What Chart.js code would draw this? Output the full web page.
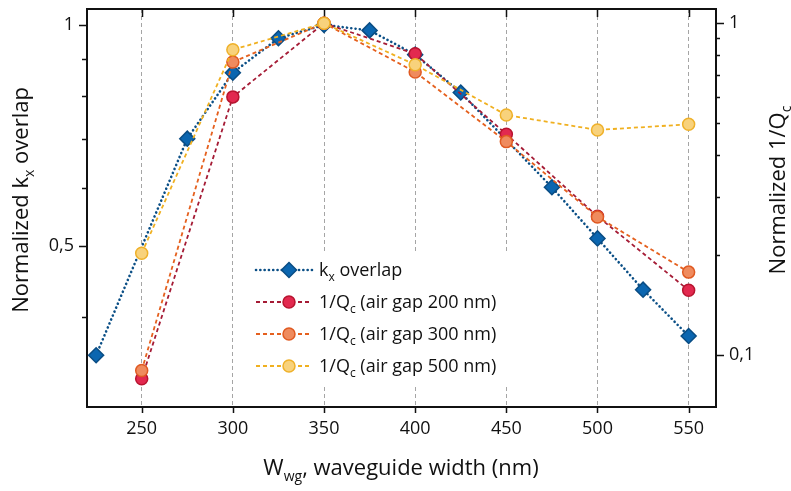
<!DOCTYPE html>
<html>
<head>
<meta charset="utf-8">
<script src="https://cdn.jsdelivr.net/npm/chart.js@4/dist/chart.umd.min.js"></script>
<style>
  html, body { margin: 0; padding: 0; background: #fff; }
  #wrap { width: 791px; height: 491px; position: relative; }
</style>
</head>
<body>
<div id="wrap"><canvas id="chart" width="791" height="491"></canvas></div>
<script>
// waveguide widths (nm) and normalized values
const widthsKx = [225, 275, 300, 325, 350, 375, 400, 425, 475, 500, 525, 550];
const kxOverlap = [0.355, 0.70, 0.861, 0.959, 1.0, 0.983, 0.911, 0.809, 0.601, 0.512, 0.436, 0.377];

const widthsQ = [250, 300, 350, 400, 450, 500, 550];
const invQGap200 = [0.085, 0.600, 1.0, 0.809, 0.463, 0.262, 0.157];
const invQGap300 = [0.090, 0.764, 1.0, 0.713, 0.440, 0.261, 0.178];
const invQGap500 = [0.203, 0.832, 1.0, 0.750, 0.529, 0.477, 0.496];

const xTicks = [250, 300, 350, 400, 450, 500, 550];
const leftTicks = [0.4, 0.5, 0.6, 0.7, 0.8, 0.9, 1];
const leftMajor = [0.5, 1];
const rightTicks = [0.1, 0.2, 0.3, 0.4, 0.5, 0.6, 0.7, 0.8, 0.9, 1];
const rightMajor = [0.1, 1];

const FONT = "'Open Sans', sans-serif";

function toPoints(xs, ys) {
    return xs.map((x, i) => ({ x: x, y: ys[i] }));
}

function fmtComma(v) {
    return String(v).replace('.', ',');
}

// draw a line of text made of parts, some of them subscripts
function richWidth(ctx, parts) {
    let w = 0;
    parts.forEach(p => {
        ctx.font = p.size + 'px ' + FONT;
        w += ctx.measureText(p.t).width;
    });
    return w;
}
function drawRich(ctx, parts, x, y, align) {
    const w = richWidth(ctx, parts);
    let cx = align === 'center' ? x - w / 2 : x;
    ctx.textAlign = 'left';
    ctx.textBaseline = 'alphabetic';
    parts.forEach(p => {
        ctx.font = p.size + 'px ' + FONT;
        ctx.fillText(p.t, cx, y + (p.dy || 0));
        cx += ctx.measureText(p.t).width;
    });
}

const legendItems = [
    { parts: [{ t: 'k', size: 18 }, { t: 'x', size: 12, dy: 5 }, { t: ' overlap', size: 18 }],
      line: '#0b4f86', dash: [0.1, 4.2], cap: 'round', lw: 2.6, marker: 'diamond', fill: '#0b66b0', stroke: '#0a4d84' },
    { parts: [{ t: '1/Q', size: 18 }, { t: 'c', size: 12, dy: 5 }, { t: ' (air gap 200 nm)', size: 18 }],
      line: '#a51b35', dash: [4, 3], cap: 'butt', lw: 1.8, marker: 'circle', fill: '#e2294f', stroke: '#b8142f' },
    { parts: [{ t: '1/Q', size: 18 }, { t: 'c', size: 12, dy: 5 }, { t: ' (air gap 300 nm)', size: 18 }],
      line: '#e5601e', dash: [4, 3], cap: 'butt', lw: 1.8, marker: 'circle', fill: '#ef8b5e', stroke: '#e05a22' },
    { parts: [{ t: '1/Q', size: 18 }, { t: 'c', size: 12, dy: 5 }, { t: ' (air gap 500 nm)', size: 18 }],
      line: '#f0b020', dash: [4, 3], cap: 'butt', lw: 1.8, marker: 'circle', fill: '#f8d27c', stroke: '#efb12a' }
];

const framePlugin = {
    id: 'frame',
    beforeDatasetsDraw(chart) {
        const ctx = chart.ctx;
        const a = chart.chartArea;
        // legend background hides the grid lines
        ctx.save();
        ctx.fillStyle = '#fff';
        ctx.fillRect(252, 252, 258, 132);
        // ticks
        ctx.strokeStyle = '#111';
        ctx.lineWidth = 1.5;
        ctx.beginPath();
        const yl = chart.scales.yL, yr = chart.scales.yR, xs = chart.scales.x;
        leftTicks.forEach(v => {
            const y = Math.round(yl.getPixelForValue(v)) + 0.5;
            const len = leftMajor.includes(v) ? 8 : 5;
            ctx.moveTo(a.left, y); ctx.lineTo(a.left - len, y);
        });
        rightTicks.forEach(v => {
            const y = Math.round(yr.getPixelForValue(v)) + 0.5;
            const len = rightMajor.includes(v) ? 8 : 4;
            ctx.moveTo(a.right, y); ctx.lineTo(a.right + len, y);
        });
        xTicks.forEach(v => {
            const x = Math.round(xs.getPixelForValue(v)) + 0.5;
            ctx.moveTo(x, a.top); ctx.lineTo(x, a.top + 8);
            ctx.moveTo(x, a.bottom); ctx.lineTo(x, a.bottom + 6);
        });
        ctx.stroke();
        // frame
        ctx.lineWidth = 2;
        ctx.strokeRect(a.left, a.top, a.right - a.left, a.bottom - a.top);
        ctx.restore();
    },
    afterDatasetsDraw(chart) {
        const ctx = chart.ctx;
        ctx.save();
        ctx.fillStyle = '#111';
        // axis titles
        drawRich(ctx, [{ t: 'W', size: 22 }, { t: 'wg', size: 14, dy: 6 }, { t: ', waveguide width (nm)', size: 22 }], 401, 475, 'center');
        ctx.save();
        ctx.translate(28, 200);
        ctx.rotate(-Math.PI / 2);
        drawRich(ctx, [{ t: 'Normalized k', size: 22 }, { t: 'x', size: 14, dy: 6 }, { t: ' overlap', size: 22 }], 0, 0, 'center');
        ctx.restore();
        ctx.save();
        ctx.translate(785, 190);
        ctx.rotate(-Math.PI / 2);
        drawRich(ctx, [{ t: 'Normalized 1/Q', size: 22 }, { t: 'c', size: 14, dy: 6 }], 0, 0, 'center');
        ctx.restore();
        // legend
        const rows = [270, 302, 334, 366];
        legendItems.forEach((it, i) => {
            const y = rows[i];
            ctx.save();
            ctx.strokeStyle = it.line;
            ctx.lineWidth = it.lw;
            ctx.lineCap = it.cap;
            ctx.setLineDash(it.dash);
            ctx.beginPath();
            ctx.moveTo(256, y); ctx.lineTo(312, y);
            ctx.stroke();
            ctx.setLineDash([]);
            ctx.fillStyle = it.fill;
            ctx.strokeStyle = it.stroke;
            ctx.lineWidth = 1.5;
            ctx.beginPath();
            if (it.marker === 'diamond') {
                ctx.moveTo(289, y - 7.5); ctx.lineTo(296.5, y); ctx.lineTo(289, y + 7.5); ctx.lineTo(281.5, y); ctx.closePath();
            } else {
                ctx.arc(289, y, 6, 0, Math.PI * 2);
            }
            ctx.fill(); ctx.stroke();
            ctx.restore();
            ctx.fillStyle = '#111';
            drawRich(ctx, it.parts, 319, y + 6, 'left');
        });
        ctx.restore();
    }
};

function noPad(s) {
    s.paddingTop = 0; s.paddingBottom = 0; s.paddingLeft = 0; s.paddingRight = 0;
}

const chart = new Chart(document.getElementById('chart'), {
    type: 'line',
    data: {
        datasets: [
            {
                label: 'kx overlap', data: toPoints(widthsKx, kxOverlap), yAxisID: 'yL', order: 3,
                borderColor: '#0b4f86', borderWidth: 2.6, borderDash: [0.1, 4.2], borderCapStyle: 'round',
                pointStyle: 'rectRot', pointRadius: 7.5, pointBorderWidth: 1.5,
                pointBackgroundColor: '#0b66b0', pointBorderColor: '#0a4d84'
            },
            {
                label: '1/Qc (air gap 200 nm)', data: toPoints(widthsQ, invQGap200), yAxisID: 'yR', order: 2,
                borderColor: '#a51b35', borderWidth: 1.8, borderDash: [4, 3],
                pointRadius: 6, pointBorderWidth: 1.5,
                pointBackgroundColor: '#e2294f', pointBorderColor: '#b8142f'
            },
            {
                label: '1/Qc (air gap 300 nm)', data: toPoints(widthsQ, invQGap300), yAxisID: 'yR', order: 1,
                borderColor: '#e5601e', borderWidth: 1.8, borderDash: [4, 3],
                pointRadius: 6, pointBorderWidth: 1.5,
                pointBackgroundColor: '#ef8b5e', pointBorderColor: '#e05a22'
            },
            {
                label: '1/Qc (air gap 500 nm)', data: toPoints(widthsQ, invQGap500), yAxisID: 'yR', order: 0,
                borderColor: '#f0b020', borderWidth: 1.8, borderDash: [4, 3],
                pointRadius: 6, pointBorderWidth: 1.5,
                pointBackgroundColor: '#f8d27c', pointBorderColor: '#efb12a'
            }
        ]
    },
    options: {
        responsive: false,
        animation: false,
        layout: { padding: { top: 7, left: 0, right: 0, bottom: 0 } },
        plugins: { legend: { display: false }, tooltip: { enabled: false } },
        scales: {
            x: {
                type: 'linear', min: 220, max: 565,
                afterBuildTicks: s => { s.ticks = xTicks.map(v => ({ value: v })); },
                afterFit: s => { s.height = 84; noPad(s); },
                grid: { drawTicks: false, color: '#a5a5a5', lineWidth: 1 },
                border: { display: false, dash: [4, 3] },
                ticks: { padding: 11, color: '#111', font: { family: FONT, size: 18 } }
            },
            yL: {
                type: 'logarithmic', position: 'left', min: 0.3018, max: 1.0512,
                afterBuildTicks: s => { s.ticks = leftTicks.map(v => ({ value: v })); },
                afterFit: s => { s.width = 87; noPad(s); },
                grid: { display: false, drawTicks: false },
                border: { display: false },
                ticks: {
                    padding: 13, color: '#111', font: { family: FONT, size: 18 },
                    callback: v => leftMajor.includes(v) ? fmtComma(v) : ''
                }
            },
            yR: {
                type: 'logarithmic', position: 'right', min: 0.06986, max: 1.1036,
                afterBuildTicks: s => { s.ticks = rightTicks.map(v => ({ value: v })); },
                afterFit: s => { s.width = 75; noPad(s); },
                grid: { display: false, drawTicks: false },
                border: { display: false },
                ticks: {
                    padding: 13, color: '#111', font: { family: FONT, size: 18 },
                    callback: v => rightMajor.includes(v) ? fmtComma(v) : ''
                }
            }
        }
    },
    plugins: [framePlugin]
});
</script>
</body>
</html>
